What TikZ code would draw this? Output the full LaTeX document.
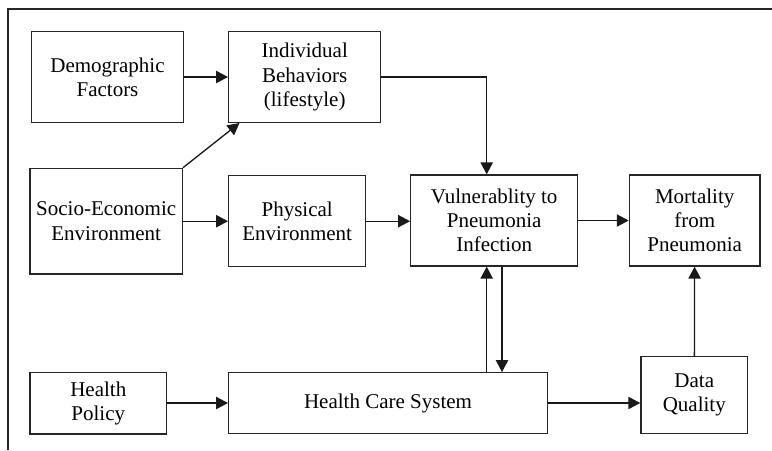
\documentclass[tikz,border=0pt]{standalone}
\usepackage{fontspec}
\setmainfont{Liberation Serif}
\usepackage{tikz}
\usetikzlibrary{positioning, arrows.meta, calc}
\tikzstyle{box} = [rectangle, draw=black!85, line width=0.75pt, inner sep=0pt, align=center, text centered, font=\fontsize{12}{13.8}\selectfont]
\tikzstyle{arrow} = [line width=0.75pt, draw=black!90, -{Triangle[length=6.8pt, width=7pt]}]

\begin{document}
\begin{tikzpicture}[x=0.5714pt, y=-0.5714pt]
\useasboundingbox (0,0) rectangle (772,450);
% frame (only top and left edges show)
\draw[line width=1pt, black!85] (8,450) -- (8,8.7) -- (772,8.7);

\node (Demo) [box, minimum width=86.6pt, minimum height=51.8pt] at (107.5,77) {Demographic\\Factors};
\node (Indiv) [box, minimum width=86.9pt, minimum height=51.8pt] at (304.7,77) {Individual\\Behaviors\\(lifestyle)};
\node (Socio) [box, minimum width=87pt, minimum height=60.4pt] at (106.2,221.2) {Socio-Economic\\Environment};
\node (Phys) [box, minimum width=78.3pt, minimum height=52pt] at (297.2,221.2) {Physical\\Environment};
\node (Vuln) [box, minimum width=95.4pt, minimum height=52pt] at (494.2,220.5) {Vulnerablity to\\Pneumonia\\Infection};
\node (Mort) [box, minimum width=74.7pt, minimum height=52pt] at (694.7,220.5) {Mortality\\from\\Pneumonia};
\node (Policy) [box, minimum width=78.1pt, minimum height=35.3pt] at (98.3,403.2) {Health\\Policy};
\node (HCS) [box, minimum width=182.1pt, minimum height=34.6pt] at (388,403) {Health Care System};
\node (DQ) [box, minimum width=61pt, minimum height=43.8pt] at (694.3,395) {Data\\Quality};

\coordinate (VulnL) at ($(Vuln.north)+(-7.5,0)$);
\coordinate (VulnR) at ($(Vuln.south)+(7.8,0)$);

\draw [arrow] (Demo) -- (Indiv);
\draw [arrow] (Socio.north east) -- ($(Indiv.south west)+(11.5,0)$);
\draw [arrow] (Socio.east |- Phys) -- (Phys);
\draw [arrow] (Phys) -- (Vuln.west |- Phys);
\draw [arrow] (Indiv.east) -| (VulnL);
\draw [arrow] (Vuln) -- (Mort);
\draw [arrow] (Policy.east |- HCS) -- (HCS);
\draw [arrow] (HCS.north -| VulnL) -- (Vuln.south -| VulnL);
\draw [arrow] (VulnR) -- (HCS.north -| VulnR);
\draw [arrow] (HCS.east) -- (HCS.east -| DQ.west);
\draw [arrow] (DQ) -- (Mort);
\end{tikzpicture}
\end{document}
